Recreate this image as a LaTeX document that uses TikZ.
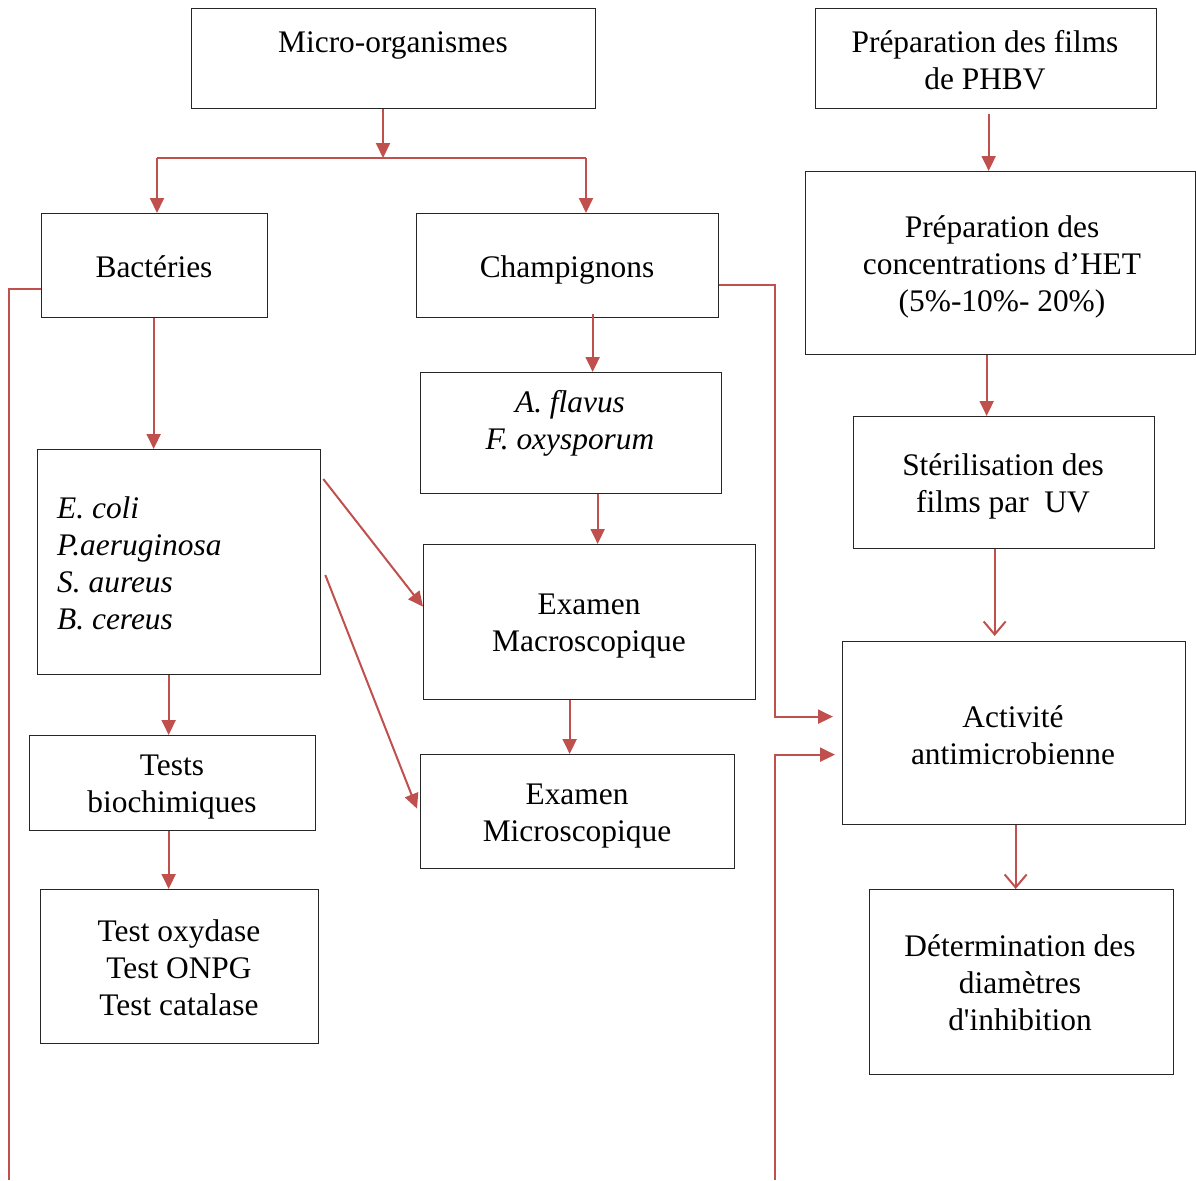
\documentclass[tikz,border=0pt]{standalone}
\usepackage{fontspec}
\setmainfont{Liberation Serif}
\newfontfamily\plainap{Liberation Serif}[Ligatures=TeXOff]
\usetikzlibrary{arrows.meta}
\definecolor{lnred}{HTML}{C0504D}
\begin{document}
\begin{tikzpicture}[x=1pt,y=-1pt,
  box/.style={draw=black!85, line width=1.3pt, inner sep=0pt, anchor=north west},
  lbl/.style={align=center, font=\fontsize{31.4}{37}\selectfont, inner sep=0pt},
  conn/.style={draw=lnred, line width=2pt},
  fa/.style={conn, -{Triangle[length=15pt,width=14pt]}},
  oa/.style={conn, -{Straight Barb[length=13pt,width=22pt,line width=2pt]}}]
\useasboundingbox (0,0) rectangle (1196,1180);

% boxes
\node[box, minimum width=404pt, minimum height=100pt] (micro) at (191,8) {};
\node[box, minimum width=341pt, minimum height=100pt] (films) at (815,8) {};
\node[box, minimum width=226pt, minimum height=104pt] (bact) at (41,213) {};
\node[box, minimum width=302pt, minimum height=104pt] (champ) at (416,213) {};
\node[box, minimum width=390pt, minimum height=183pt] (conc) at (805,171) {};
\node[box, minimum width=301pt, minimum height=121pt] (fung) at (420,372) {};
\node[box, minimum width=283pt, minimum height=225pt] (ecoli) at (37,449) {};
\node[box, minimum width=332pt, minimum height=155pt] (macro) at (423,544) {};
\node[box, minimum width=301pt, minimum height=132pt] (steril) at (853,416) {};
\node[box, minimum width=343pt, minimum height=183pt] (activ) at (842,641) {};
\node[box, minimum width=286pt, minimum height=95pt] (tests) at (29,735) {};
\node[box, minimum width=314pt, minimum height=114pt] (micros) at (420,754) {};
\node[box, minimum width=278pt, minimum height=154pt] (oxy) at (40,889) {};
\node[box, minimum width=304pt, minimum height=185pt] (determ) at (869,889) {};

% texts
\node[lbl] (microT) at (393,45) {Micro-organismes};
\node[lbl] (filmsT) at (985,60) {Préparation des films\\de PHBV};
\node[lbl] (bactT) at (154,267) {Bactéries};
\node[lbl] (champT) at (567,270) {Champignons};
\node[lbl] (concT) at (1002,267) {Préparation des\\concentrations d’HET\\(5\%-10\%- 20\%)};
\node[lbl] (fungT) at (570,423) {\textit{A. flavus}\\\textit{F. oxysporum}};
\node[lbl, align=left, anchor=west] (ecoliT) at (57,563) {\textit{E. coli}\\\textit{P.aeruginosa}\\\textit{S. aureus}\\\textit{B. cereus}};
\node[lbl] (macroT) at (589,626) {Examen\\Macroscopique};
\node[lbl] (sterT) at (1003,486) {Stérilisation des\\films par~ UV};
\node[lbl] (activT) at (1013,735) {Activité\\antimicrobienne};
\node[lbl] (testsT) at (172,787) {Tests\\biochimiques};
\node[lbl] (microsT) at (577,816) {Examen\\Microscopique};
\node[lbl] (oxyT) at (179,968) {Test oxydase\\Test ONPG\\Test catalase};
\node[lbl] (determT) at (1020,983) {Détermination des\\diamètres\\{\plainap d'inhibition}};

% connectors
\coordinate (j) at (383,158);
\coordinate (jl) at (157,158);
\coordinate (jr) at (586,158);
\coordinate (bot1) at (9,1180);
\coordinate (bot2) at (775,1180);

\draw[fa] (micro.south -| j) -- (j);
\draw[conn] (jl) -- (jr);
\draw[fa] (jl) -- (jl |- bact.north);
\draw[fa] (jr) -- (jr |- champ.north);
\draw[fa] ([shift={(-1,0)}]bact.south) -- ([shift={(-1,0)}]bact.south |- ecoli.north);
\draw[fa] ([shift={(25,-4)}]champ.south) -- ([shift={(25,0)}]champ.south |- fung.north);
\draw[fa] ([shift={(26.5,0)}]fung.south) -- ([shift={(26.5,0)}]fung.south |- macro.north);
\draw[fa] ([shift={(-20,0)}]macro.south) -- ([shift={(-20,0)}]macro.south |- micros.north);
\draw[fa] ([shift={(-10.5,0)}]ecoli.south) -- ([shift={(-10.5,0)}]ecoli.south |- tests.north);
\draw[fa] ([shift={(-4,0)}]tests.south) -- ([shift={(-4,0)}]tests.south |- oxy.north);
\draw[fa] ([shift={(2,30)}]ecoli.north east) -- ([shift={(0,-15.5)}]macro.west);
\draw[fa] ([shift={(4,126)}]ecoli.north east) -- ([shift={(-3,-3)}]micros.west);
\draw[conn] ([shift={(0,23)}]bact.west) -| (bot1);
\draw[fa] ([shift={(0,19)}]champ.east) -- ++(56,0) |- ([shift={(-9,-16.5)}]activ.west);
\draw[fa] (bot2) |- ([shift={(-7,21.5)}]activ.west);
\draw[fa] ([shift={(2.5,5)}]films.south) -- ([shift={(2.5,0)}]films.south |- conc.north);
\draw[fa] ([shift={(-14,0)}]conc.south) -- ([shift={(-14,0)}]conc.south |- steril.north);
\draw[oa] ([shift={(-9.5,0)}]steril.south) -- ([shift={(-9.5,-5)}]steril.south |- activ.north);
\draw[oa] ([shift={(1.5,0)}]activ.south) -- ([shift={(1.5,0)}]activ.south |- determ.north);
\end{tikzpicture}
\end{document}
